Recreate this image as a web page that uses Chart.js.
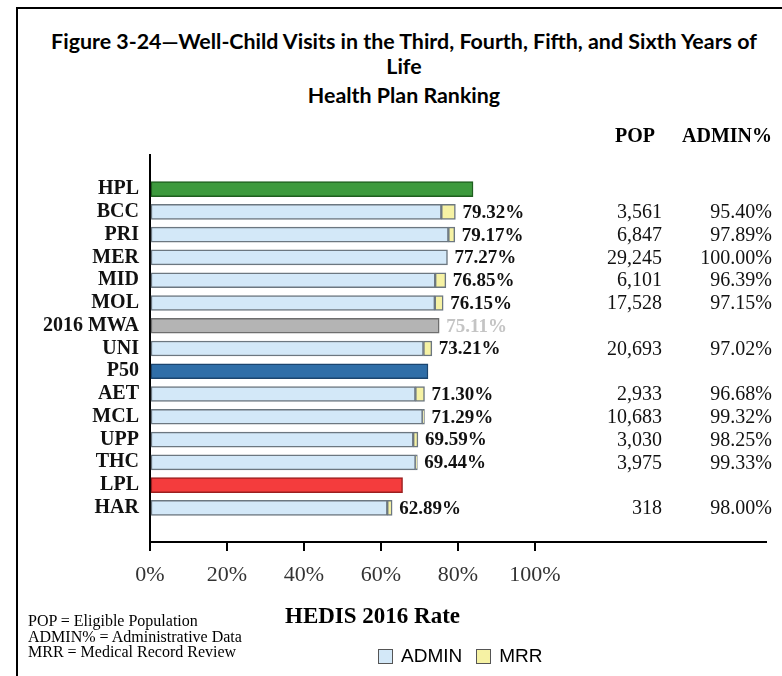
<!DOCTYPE html>
<html>
<head>
<meta charset="utf-8">
<script src="https://cdn.jsdelivr.net/npm/chart.js@4.4.0/dist/chart.umd.min.js"></script>
<style>
  body { margin: 0; background: #fff; }
  #wrap { position: relative; width: 782px; height: 676px; overflow: hidden; background: #fff; }
  #frame { position: absolute; left: 16px; top: 7px; width: 800px; height: 700px;
           border-left: 2px solid #000; border-top: 2px solid #000; }
  .title { position: absolute; left: 17px; width: 774px; text-align: center; white-space: nowrap;
           font-family: Lato, "Open Sans", sans-serif; font-weight: bold; font-size: 21.4px; color: #000; }
  #chart { position: absolute; left: 0; top: 0; }
  #xtitle { position: absolute; left: 285px; top: 603px; font-family: "Liberation Serif", "Times New Roman", serif;
            font-weight: bold; font-size: 23px; color: #000; white-space: nowrap; }
  #notes { position: absolute; left: 28px; top: 613px; font-family: "Liberation Serif", "Times New Roman", serif;
           font-size: 16px; line-height: 15.5px; color: #000; }
  #legend { position: absolute; left: 378px; top: 645px; font-family: "Liberation Sans", Arial, sans-serif;
            font-size: 19px; color: #000; display: flex; align-items: center; }
  #legend span.box { display: inline-block; width: 13px; height: 13px; border: 1px solid #555; margin-right: 8px; }
  #legend span.lbl { margin-right: 14px; }
</style>
</head>
<body>
<div id="wrap">
  <div id="frame"></div>
  <div class="title" style="top:28px">Figure 3-24—Well-Child Visits in the Third, Fourth, Fifth, and Sixth Years of</div>
  <div class="title" style="top:53px">Life</div>
  <div class="title" style="top:82px">Health Plan Ranking</div>
  <canvas id="chart" width="782" height="676"></canvas>
  <div id="xtitle">HEDIS 2016 Rate</div>
  <div id="notes">POP = Eligible Population<br>ADMIN% = Administrative Data<br>MRR = Medical Record Review</div>
  <div id="legend"></div>
</div>
<script>
// Datos
const plans = ['HPL', 'BCC', 'PRI', 'MER', 'MID', 'MOL', '2016 MWA', 'UNI', 'P50', 'AET', 'MCL', 'UPP', 'THC', 'LPL', 'HAR'];
const rates = [null, 79.32, 79.17, 77.27, 76.85, 76.15, null, 73.21, null, 71.30, 71.29, 69.59, 69.44, null, 62.89];
const adminPct = [null, 95.40, 97.89, 100.00, 96.39, 97.15, null, 97.02, null, 96.68, 99.32, 98.25, 99.33, null, 98.00];
const pop = [null, '3,561', '6,847', '29,245', '6,101', '17,528', null, '20,693', null, '2,933', '10,683', '3,030', '3,975', null, '318'];
const benchmarks = [83.9, null, null, null, null, null, 75.11, null, 72.2, null, null, null, null, 65.6, null];
const benchmarkLabelShown = ['2016 MWA'];
const xTickValues = [0, 20, 40, 60, 80, 100];

// Colores
const benchColors = { 'HPL': '#3d9a3d', '2016 MWA': '#b4b4b4', 'P50': '#2f6ea8', 'LPL': '#f43c3d' };
const benchBorders = { 'HPL': '#1f5f1f', '2016 MWA': '#6e6e6e', 'P50': '#1b456f', 'LPL': '#9b1f1f' };
const ADMIN_FILL = '#d3e8f8', MRR_FILL = '#f6f2a4', PLAN_BORDER = '#6c7780';

// Armar series apiladas
const adminData = [], mrrData = [], benchData = [], benchBg = [], benchBd = [];
plans.forEach((p, i) => {
    if (rates[i] != null) {
        const admin = rates[i] * adminPct[i] / 100;
        adminData.push({ x: admin, y: i });
        mrrData.push({ x: rates[i] - admin, y: i });
    }
    if (benchmarks[i] != null) {
        benchData.push({ x: benchmarks[i], y: i });
        benchBg.push(benchColors[p]);
        benchBd.push(benchBorders[p]);
    }
});

const SERIF = '"Liberation Serif", "Times New Roman", serif';

// Etiquetas de valor y tabla POP / ADMIN%
const labelsPlugin = {
    id: 'labelsPlugin',
    afterDatasetsDraw(chart) {
        const ctx = chart.ctx;
        const xs = chart.scales.x, ys = chart.scales.y;
        ctx.save();
        ctx.textBaseline = 'middle';
        plans.forEach((p, i) => {
            const y = ys.getPixelForValue(i);
            ctx.textAlign = 'left';
            ctx.font = 'bold 19px ' + SERIF;
            if (rates[i] != null) {
                ctx.fillStyle = '#111';
                ctx.fillText(rates[i].toFixed(2) + '%', xs.getPixelForValue(rates[i]) + 7, y + 1);
            } else if (benchmarkLabelShown.includes(p)) {
                ctx.fillStyle = '#c4c4c4';
                ctx.fillText(benchmarks[i].toFixed(2) + '%', xs.getPixelForValue(benchmarks[i]) + 7, y + 1);
            }
            ctx.font = '20px ' + SERIF;
            ctx.fillStyle = '#111';
            ctx.textAlign = 'right';
            if (pop[i] != null) ctx.fillText(pop[i], 662, y + 1);
            if (adminPct[i] != null) ctx.fillText(adminPct[i].toFixed(2) + '%', 772, y + 1);
        });
        ctx.font = 'bold 20px ' + SERIF;
        ctx.fillStyle = '#000';
        ctx.fillText('POP', 655, 137);
        ctx.fillText('ADMIN%', 772, 137);
        ctx.restore();
    }
};

new Chart(document.getElementById('chart'), {
    type: 'bar',
    data: {
        datasets: [
            { label: 'ADMIN', data: adminData, backgroundColor: ADMIN_FILL, borderColor: PLAN_BORDER,
              borderWidth: 1.5, borderSkipped: false, barThickness: 15 },
            { label: 'MRR', data: mrrData, backgroundColor: MRR_FILL, borderColor: PLAN_BORDER,
              borderWidth: 1.5, borderSkipped: false, barThickness: 15 },
            { label: 'Benchmarks', data: benchData, backgroundColor: benchBg, borderColor: benchBd,
              borderWidth: 1.5, borderSkipped: false, barThickness: 15 }
        ]
    },
    options: {
        indexAxis: 'y',
        responsive: false,
        animation: false,
        layout: { padding: { top: 155, right: 16, left: 0, bottom: 0 } },
        plugins: {
            legend: { display: false },
            tooltip: { enabled: false }
        },
        scales: {
            x: {
                type: 'linear',
                stacked: true,
                min: 0,
                max: 160,
                afterFit: s => { s.height = 134; },
                border: { color: '#000', width: 2 },
                grid: {
                    drawOnChartArea: false,
                    tickLength: 9,
                    lineWidth: 2,
                    color: c => (c.tick && xTickValues.includes(c.tick.value)) ? '#000' : 'rgba(0,0,0,0)'
                },
                ticks: {
                    stepSize: 20,
                    padding: 11,
                    color: '#333',
                    font: { family: SERIF, size: 22 },
                    callback: v => xTickValues.includes(v) ? v + '%' : ''
                }
            },
            y: {
                type: 'linear',
                stacked: true,
                reverse: true,
                min: -1,
                max: 15,
                afterFit: s => { s.width = 150; },
                border: { color: '#000', width: 2 },
                grid: { display: false },
                ticks: {
                    stepSize: 1,
                    autoSkip: false,
                    padding: 3,
                    color: '#111',
                    font: { family: SERIF, size: 20, weight: 'bold' },
                    callback: v => plans[v] ?? ''
                }
            }
        }
    },
    plugins: [labelsPlugin]
});

// Leyenda HTML (solo ADMIN y MRR)
const legend = document.getElementById('legend');
[['ADMIN', ADMIN_FILL], ['MRR', MRR_FILL]].forEach(([name, col]) => {
    legend.insertAdjacentHTML('beforeend',
        '<span class="box" style="background:' + col + '"></span><span class="lbl">' + name + '</span>');
});
</script>
</body>
</html>
